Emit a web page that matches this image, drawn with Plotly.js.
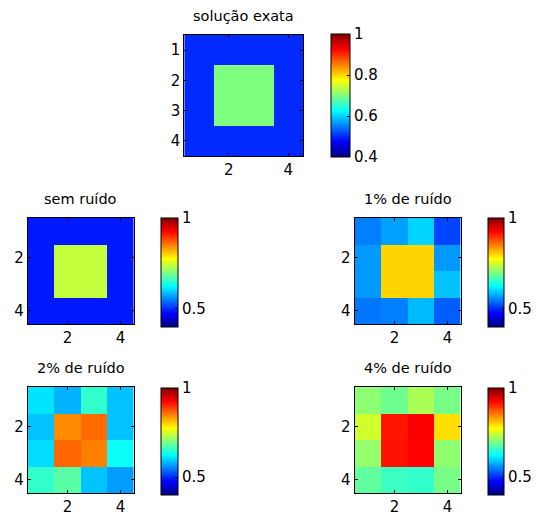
<!DOCTYPE html>
<html>
<head>
<meta charset="utf-8">
<script src="https://cdn.plot.ly/plotly-3.0.1.min.js"></script>
<style>
  html, body { margin: 0; padding: 0; background: #fff; }
  #plot { width: 536px; height: 519px; }
</style>
</head>
<body>
<div id="plot"></div>
<script>
// Grid coordinates of the 4x4 cells
const cols = [1, 2, 3, 4];
const rows = [1, 2, 3, 4];

// Panel titles
const titles = ['solução exata', 'sem ruído', '1% de ruído', '2% de ruído', '4% de ruído'];

// Cell values, row by row (row 1 at the top)
const exata = [
  [0.50, 0.50, 0.50, 0.50],
  [0.50, 0.70, 0.70, 0.50],
  [0.50, 0.70, 0.70, 0.50],
  [0.50, 0.50, 0.50, 0.50]
];
const semRuido = [
  [0.49, 0.49, 0.49, 0.49],
  [0.49, 0.74, 0.74, 0.49],
  [0.49, 0.74, 0.74, 0.49],
  [0.49, 0.49, 0.49, 0.49]
];
const ruido1 = [
  [0.550, 0.570, 0.600, 0.515],
  [0.565, 0.800, 0.800, 0.565],
  [0.565, 0.800, 0.800, 0.590],
  [0.545, 0.550, 0.585, 0.530]
];
const ruido2 = [
  [0.610, 0.580, 0.655, 0.590],
  [0.590, 0.843, 0.862, 0.590],
  [0.605, 0.865, 0.850, 0.630],
  [0.655, 0.678, 0.590, 0.567]
];
const ruido4 = [
  [0.708, 0.690, 0.725, 0.695],
  [0.748, 0.913, 0.928, 0.793],
  [0.712, 0.915, 0.925, 0.710],
  [0.682, 0.660, 0.655, 0.695]
];

// Colour limits and colorbar tick labels
const cmin = 0.4, cmax = 1.0;
const cbTicksTop = [0.4, 0.6, 0.8, 1];
const cbTicksBottom = [0.5, 1];

// Classic jet colormap
const jet = [
  [0.000, 'rgb(0,0,128)'],
  [0.125, 'rgb(0,0,255)'],
  [0.375, 'rgb(0,255,255)'],
  [0.625, 'rgb(255,255,0)'],
  [0.875, 'rgb(255,0,0)'],
  [1.000, 'rgb(128,0,0)']
];

const W = 536, H = 519;
const px = v => v / W;
const py = v => 1 - v / H;

// Pixel boxes of each panel: [left, right, top, bottom], and its colorbar
const panels = [
  { z: exata,    box: [186, 306, 35, 156],  cb: [334, 19, 34, 123],  xt: [2, 4], yt: [1, 2, 3, 4], ct: cbTicksTop },
  { z: semRuido, box: [28, 135, 218, 324],  cb: [163, 17, 218, 109], xt: [2, 4], yt: [2, 4], ct: cbTicksBottom },
  { z: ruido1,   box: [358, 465, 218, 324], cb: [493, 16, 218, 109], xt: [2, 4], yt: [2, 4], ct: cbTicksBottom },
  { z: ruido2,   box: [28, 135, 387, 493],  cb: [163, 17, 388, 107], xt: [2, 4], yt: [2, 4], ct: cbTicksBottom },
  { z: ruido4,   box: [358, 465, 387, 493], cb: [493, 16, 388, 107], xt: [2, 4], yt: [2, 4], ct: cbTicksBottom }
];

const font = { family: 'DejaVu Sans, Arial, sans-serif', size: 15, color: '#000' };

const data = [];
const layout = {
  width: W, height: H,
  margin: { l: 0, r: 0, t: 0, b: 0 },
  paper_bgcolor: '#fff',
  plot_bgcolor: '#fff',
  showlegend: false,
  font: font,
  annotations: []
};

panels.forEach((p, i) => {
  const n = i === 0 ? '' : String(i + 1);
  const [l, r, t, b] = p.box;
  const [cx, cth, cy, clen] = p.cb;
  data.push({
    type: 'heatmap',
    x: cols, y: rows, z: p.z,
    xaxis: 'x' + n, yaxis: 'y' + n,
    zmin: cmin, zmax: cmax,
    colorscale: jet,
    zsmooth: false,
    hoverinfo: 'z',
    colorbar: {
      x: px(cx), xanchor: 'left', xpad: 0,
      y: py(cy), yanchor: 'top', ypad: 0,
      len: clen, lenmode: 'pixels',
      thickness: cth, thicknessmode: 'pixels',
      outlinecolor: '#000', outlinewidth: 1,
      tickvals: p.ct, ticktext: p.ct.map(String),
      ticks: 'inside', ticklen: 3, tickcolor: '#000',
      tickfont: font
    }
  });
  layout['xaxis' + n] = {
    domain: [px(l), px(r)],
    anchor: 'y' + n,
    range: [0.5, 4.5],
    tickvals: p.xt, ticktext: p.xt.map(String),
    ticks: 'inside', ticklen: 3, tickcolor: '#000',
    showline: true, linecolor: '#000', linewidth: 1, mirror: 'ticks',
    showgrid: false, zeroline: false,
    tickfont: font, fixedrange: true
  };
  layout['yaxis' + n] = {
    domain: [py(b), py(t)],
    anchor: 'x' + n,
    range: [4.5, 0.5],
    tickvals: p.yt, ticktext: p.yt.map(String),
    ticks: 'inside', ticklen: 3, tickcolor: '#000',
    showline: true, linecolor: '#000', linewidth: 1, mirror: 'ticks',
    showgrid: false, zeroline: false,
    tickfont: font, fixedrange: true
  };
  layout.annotations.push({
    text: titles[i],
    xref: 'paper', yref: 'paper',
    x: px((l + r) / 2), y: py(t - 19),
    xanchor: 'center', yanchor: 'middle',
    showarrow: false,
    font: { family: font.family, size: 14.5, color: '#000' }
  });
});

Plotly.newPlot('plot', data, layout, { displayModeBar: false, staticPlot: true });
</script>
</body>
</html>
